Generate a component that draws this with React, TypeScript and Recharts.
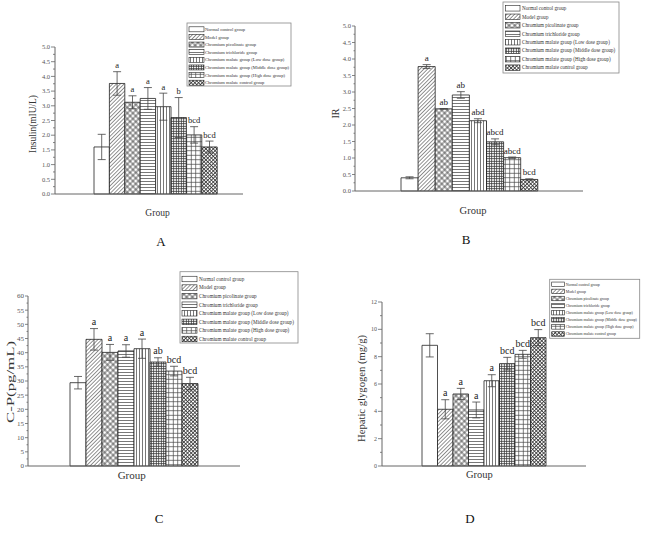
import React from 'react';
import { BarChart, Bar, XAxis, YAxis, ErrorBar, LabelList } from 'recharts';

const groups = [
  'Normal control group',
  'Model group',
  'Chromium picolinate group',
  'Chromium trichloride group',
  'Chromium malate group (Low dose group)',
  'Chromium malate group (Middle dose group)',
  'Chromium malate group (High dose group)',
  'Chromium malate control group',
];

const insulinMean = [1.6, 3.76, 3.12, 3.25, 2.97, 2.6, 2.01, 1.6];
const insulinErr = [0.43, 0.4, 0.22, 0.37, 0.46, 0.68, 0.28, 0.2];
const insulinSig = ['', 'a', 'a', 'a', 'a', 'b', 'bcd', 'bcd'];
const insulinTicks = [0, 0.25, 0.5, 0.75, 1, 1.25, 1.5, 1.75, 2, 2.25, 2.5, 2.75, 3, 3.25, 3.5, 3.75, 4, 4.25, 4.5, 4.75, 5];
const insulinMajor = [0, 0.5, 1, 1.5, 2, 2.5, 3, 3.5, 4, 4.5, 5];

const irMean = [0.4, 3.77, 2.49, 2.91, 2.13, 1.49, 1.01, 0.35];
const irErr = [0.03, 0.06, 0.01, 0.1, 0.06, 0.09, 0.02, 0.02];
const irSig = ['', 'a', 'ab', 'ab', 'abd', 'abcd', 'abcd', 'bcd'];
const irTicks = insulinTicks;
const irMajor = insulinMajor;

const cpMean = [29.4, 44.7, 40.1, 40.6, 41.4, 36.7, 33.5, 29.1];
const cpErr = [2.2, 3.8, 2.8, 2.2, 3.4, 1.5, 1.7, 2.2];
const cpSig = ['', 'a', 'a', 'a', 'a', 'ab', 'bcd', 'bcd'];
const cpTicks = [0, 2.5, 5, 7.5, 10, 12.5, 15, 17.5, 20, 22.5, 25, 27.5, 30, 32.5, 35, 37.5, 40, 42.5, 45, 47.5, 50, 52.5, 55, 57.5, 60];
const cpMajor = [0, 5, 10, 15, 20, 25, 30, 35, 40, 45, 50, 55, 60];

const hgMean = [8.83, 4.15, 5.27, 4.1, 6.24, 7.49, 8.17, 9.39];
const hgErr = [0.85, 0.7, 0.41, 0.58, 0.44, 0.46, 0.29, 0.59];
const hgSig = ['', 'a', 'a', 'a', 'a', 'bcd', 'bcd', 'bcd'];
const hgTicks = [0, 1, 2, 3, 4, 5, 6, 7, 8, 9, 10, 11, 12];
const hgMajor = [0, 2, 4, 6, 8, 10, 12];

const fills = ['#ffffff', 'url(#p1)', 'url(#p2)', 'url(#p3)', 'url(#p4)', 'url(#p5)', 'url(#p6)', 'url(#p7)'];
const SERIF = '"Liberation Serif", "Times New Roman", serif';
const AXIS = '#666';

const makeTick = (majors: number[], dec: number, font: number, majorLen: number, minorLen: number) => (props: any) => {
  const { x, y, payload } = props;
  const v = payload.value;
  const isMajor = majors.some((m) => Math.abs(m - v) < 1e-9);
  const len = isMajor ? majorLen : minorLen;
  return (
    <g>
      <line x1={x - len} x2={x} y1={y} y2={y} stroke={AXIS} strokeWidth={0.8} />
      {isMajor && (
        <text x={x - majorLen - 1} y={y} dy="0.35em" textAnchor="end" fontSize={font} fontFamily={SERIF} fill="#555">
          {v.toFixed(dec)}
        </text>
      )}
    </g>
  );
};

const sigLabel = (val: number, err: number, font: number) => (props: any) => {
  const vb = props.viewBox || props;
  const { x, y, width, height } = vb;
  const value = props.value;
  if (!value) return null;
  const k = height / val;
  const top = y - err * k;
  return (
    <text x={x + width / 2} y={top - 3.5} textAnchor="middle" fontSize={font} fontFamily={SERIF} fill="#222" stroke="none">
      {value}
    </text>
  );
};

const rotLabel = (cx: number, cy: number, text: string, font: number, len?: number) => () => (
  <text
    x={cx}
    y={cy}
    transform={`rotate(-90 ${cx} ${cy})`}
    textAnchor="middle"
    dominantBaseline="central"
    fontSize={font}
    fontFamily={SERIF}
    fill="#333"
    {...(len ? { textLength: len, lengthAdjust: 'spacingAndGlyphs' } : {})}
  >
    {text}
  </text>
);

const flatLabel = (cx: number, by: number, text: string, font: number) => () => (
  <text x={cx} y={by} textAnchor="middle" fontSize={font} fontFamily={SERIF} fill="#333">
    {text}
  </text>
);

type PanelProps = {
  left: number; top: number; width: number; height: number;
  margin: { top: number; right: number; bottom: number; left: number };
  yWidth: number; padLeft: number; max: number; ticks: number[]; majors: number[]; dec: number;
  tickFont: number; majorLen: number; minorLen: number;
  means: number[]; errs: number[]; sigs: string[]; sigFont: number; barSize: number;
  yLabel: () => any; xLabel: () => any;
};

function Panel(p: PanelProps) {
  const row: any = { name: 'Group' };
  p.means.forEach((m, i) => {
    row['v' + i] = m;
    row['e' + i] = p.errs[i];
    row['s' + i] = p.sigs[i];
  });
  return (
    <div style={{ position: 'absolute', left: p.left, top: p.top }}>
      <BarChart width={p.width} height={p.height} data={[row]} margin={p.margin} barGap={0}>
        <XAxis
          dataKey="name"
          tick={false}
          tickLine={false}
          axisLine={{ stroke: AXIS, strokeWidth: 1 }}
          height={22}
          padding={{ left: p.padLeft, right: 0 }}
          label={p.xLabel}
        />
        <YAxis
          type="number"
          domain={[0, p.max]}
          ticks={p.ticks}
          interval={0}
          width={p.yWidth}
          tickSize={0}
          tickMargin={0}
          tickLine={false}
          axisLine={{ stroke: AXIS, strokeWidth: 1 }}
          tick={makeTick(p.majors, p.dec, p.tickFont, p.majorLen, p.minorLen)}
          label={p.yLabel}
        />
        {p.means.map((m, i) => (
          <Bar
            key={i}
            dataKey={'v' + i}
            fill={fills[i]}
            stroke="#222"
            strokeWidth={0.8}
            barSize={p.barSize}
            isAnimationActive={false}
          >
            <ErrorBar dataKey={'e' + i} width={4} stroke="#444" strokeWidth={0.8} isAnimationActive={false} />
            <LabelList dataKey={'s' + i} content={sigLabel(m, p.errs[i], p.sigFont)} />
          </Bar>
        ))}
      </BarChart>
    </div>
  );
}

function LegendBox(props: { x: number; y: number; w: number; h: number; row0: number; step: number; swX: number; swW: number; swH: number; textX: number; font: number }) {
  const { x, y, w, h, row0, step, swX, swW, swH, textX, font } = props;
  return (
    <g>
      <rect x={x} y={y} width={w} height={h} fill="#fff" stroke="#888" strokeWidth={0.8} />
      {groups.map((g, i) => (
        <g key={i}>
          <rect x={swX} y={row0 + i * step - swH / 2} width={swW} height={swH} fill={fills[i]} stroke="#222" strokeWidth={0.6} />
          <text x={textX} y={row0 + i * step} dy="0.35em" fontSize={font} fontFamily={SERIF} fill="#333">
            {g}
          </text>
        </g>
      ))}
    </g>
  );
}

export default function App() {
  return (
    <div style={{ position: 'absolute', left: 0, top: 0, width: 647, height: 538, background: '#fff', overflow: 'hidden' }}>
      <Panel
        left={0} top={0} width={323} height={240}
        margin={{ top: 47, right: 80, bottom: 24, left: 25 }}
        yWidth={30} padLeft={13} max={5} ticks={insulinTicks} majors={insulinMajor} dec={1}
        tickFont={6.5} majorLen={4} minorLen={2}
        means={insulinMean} errs={insulinErr} sigs={insulinSig} sigFont={8.5} barSize={15.4}
        yLabel={rotLabel(33, 124, 'Insulin(mIU/L)', 9.5, 58)}
        xLabel={flatLabel(157.5, 215.5, 'Group', 9.5)}
      />
      <Panel
        left={323} top={0} width={324} height={240}
        margin={{ top: 26, right: 64, bottom: 27, left: 2 }}
        yWidth={30} padLeft={0} max={5} ticks={irTicks} majors={irMajor} dec={1}
        tickFont={6.6} majorLen={3} minorLen={1.5}
        means={irMean} errs={irErr} sigs={irSig} sigFont={9} barSize={17.1}
        yLabel={rotLabel(12.5, 113.5, 'IR', 10)}
        xLabel={flatLabel(150, 214, 'Group', 10.5)}
      />
      <Panel
        left={0} top={260} width={323} height={240}
        margin={{ top: 36, right: 83, bottom: 12, left: 6 }}
        yWidth={22} padLeft={0} max={60} ticks={cpTicks} majors={cpMajor} dec={0}
        tickFont={7} majorLen={3} minorLen={1.5}
        means={cpMean} errs={cpErr} sigs={cpSig} sigFont={10} barSize={16}
        yLabel={rotLabel(9.5, 122, 'C-P(pg/mL)', 11, 82)}
        xLabel={flatLabel(131.7, 219, 'Group', 11)}
      />
      <Panel
        left={323} top={260} width={324} height={240}
        margin={{ top: 42, right: 61, bottom: 12, left: 29 }}
        yWidth={30} padLeft={0} max={12} ticks={hgTicks} majors={hgMajor} dec={0}
        tickFont={6} majorLen={4} minorLen={2}
        means={hgMean} errs={hgErr} sigs={hgSig} sigFont={10} barSize={15.5}
        yLabel={rotLabel(38.7, 128.5, 'Hepatic glygogen (mg/g)', 10.5, 107)}
        xLabel={flatLabel(156.3, 218, 'Group', 10.5)}
      />
      <svg width={647} height={538} style={{ position: 'absolute', left: 0, top: 0, pointerEvents: 'none' }}>
        <defs>
          <pattern id="p1" patternUnits="userSpaceOnUse" width={2.7} height={2.7} patternTransform="rotate(-45)">
            <rect width={2.7} height={2.7} fill="#fff" />
            <line x1={0} y1={1.35} x2={2.7} y2={1.35} stroke="#777" strokeWidth={0.8} />
          </pattern>
          <pattern id="p2" patternUnits="userSpaceOnUse" width={4} height={4} patternTransform="rotate(45)">
            <rect width={4} height={4} fill="#fff" />
            <line x1={0} y1={2} x2={4} y2={2} stroke="#222" strokeWidth={0.7} />
            <line x1={2} y1={0} x2={2} y2={4} stroke="#222" strokeWidth={0.7} />
          </pattern>
          <pattern id="p3" patternUnits="userSpaceOnUse" width={3} height={3}>
            <rect width={3} height={3} fill="#fff" />
            <line x1={0} y1={1.5} x2={3} y2={1.5} stroke="#555" strokeWidth={0.8} />
          </pattern>
          <pattern id="p4" patternUnits="userSpaceOnUse" width={3} height={3}>
            <rect width={3} height={3} fill="#fff" />
            <line x1={1.5} y1={0} x2={1.5} y2={3} stroke="#555" strokeWidth={0.8} />
          </pattern>
          <pattern id="p5" patternUnits="userSpaceOnUse" width={2.5} height={2.5}>
            <rect width={2.5} height={2.5} fill="#fff" />
            <line x1={0} y1={1.25} x2={2.5} y2={1.25} stroke="#333" strokeWidth={0.8} />
            <line x1={1.25} y1={0} x2={1.25} y2={2.5} stroke="#333" strokeWidth={0.8} />
          </pattern>
          <pattern id="p6" patternUnits="userSpaceOnUse" width={4.5} height={4.5}>
            <rect width={4.5} height={4.5} fill="#fff" />
            <line x1={0} y1={2.25} x2={4.5} y2={2.25} stroke="#444" strokeWidth={0.7} />
            <line x1={2.25} y1={0} x2={2.25} y2={4.5} stroke="#444" strokeWidth={0.7} />
          </pattern>
          <pattern id="p7" patternUnits="userSpaceOnUse" width={2.6} height={2.6} patternTransform="rotate(45)">
            <rect width={2.6} height={2.6} fill="#fff" />
            <line x1={0} y1={1.3} x2={2.6} y2={1.3} stroke="#333" strokeWidth={0.8} />
            <line x1={1.3} y1={0} x2={1.3} y2={2.6} stroke="#333" strokeWidth={0.8} />
          </pattern>
        </defs>
        <LegendBox x={187} y={23} w={104} h={63} row0={29.3} step={7.63} swX={189} swW={15} swH={5} textX={205} font={4.6} />
        <LegendBox x={503} y={2} w={116} h={71} row0={8.3} step={8.48} swX={505.5} swW={14.5} swH={5.5} textX={522} font={5.1} />
        <LegendBox x={180} y={271.7} w={118} h={71.3} row0={279} step={8.57} swX={182} swW={15} swH={5.5} textX={199} font={5.2} />
        <LegendBox x={549.7} y={279.3} w={90} h={59} row0={284.3} step={7.1} swX={551.7} swW={12.6} swH={4.5} textX={565.7} font={3.9} />
        <text x={161} y={246} textAnchor="middle" fontSize={13} fontFamily={SERIF} fill="#111">A</text>
        <text x={466} y={243.5} textAnchor="middle" fontSize={13} fontFamily={SERIF} fill="#111">B</text>
        <text x={159} y={523} textAnchor="middle" fontSize={13} fontFamily={SERIF} fill="#111">C</text>
        <text x={470} y={523} textAnchor="middle" fontSize={13} fontFamily={SERIF} fill="#111">D</text>
      </svg>
    </div>
  );
}
